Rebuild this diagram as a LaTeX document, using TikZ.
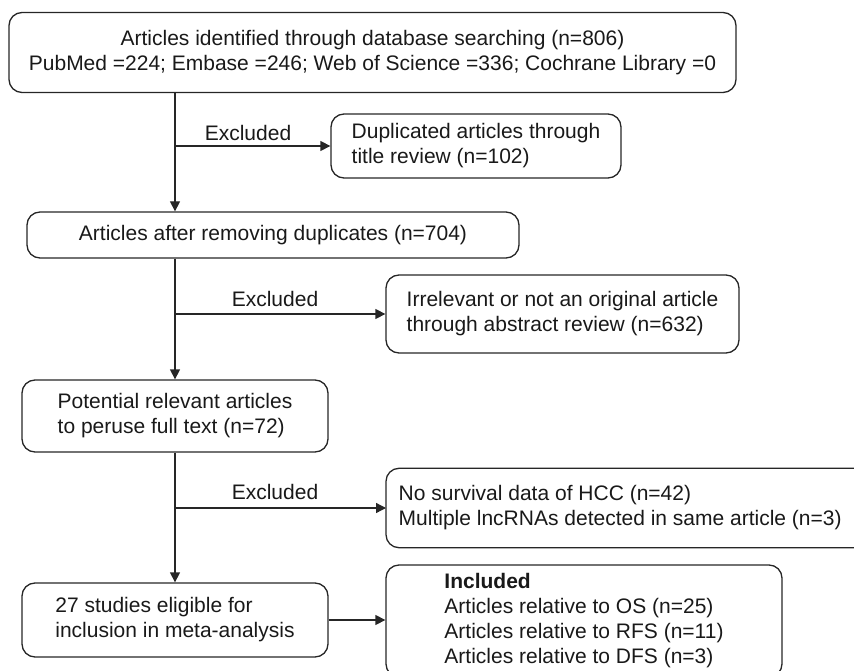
\documentclass[tikz,border=0pt]{standalone}
\usepackage{fontspec}
\setmainfont{Liberation Sans}
\usetikzlibrary{arrows.meta}
\begin{document}
\begin{tikzpicture}[x=1pt,y=-1pt,
  font=\fontsize{21}{25}\selectfont,
  box/.style={draw=black!85, line width=1.3pt, rounded corners=13pt, align=left,
    inner sep=0pt, text=black!90},
  plain/.style={align=left, inner sep=0pt, text=black!90},
  lbl/.style={inner sep=0pt, text=black!90},
  arr/.style={draw=black!85, line width=1.3pt, -{Triangle[length=10pt,width=10pt]}}]
\useasboundingbox (0,0) rectangle (854,671);
\node[box, align=center, minimum width=727pt, minimum height=80pt] (b1) at (372.5,52.5)
  {Articles identified through database searching (n=806)\\PubMed =224; Embase =246; Web of Science =336; Cochrane Library =0};
\node[box, minimum width=290pt, minimum height=64pt] (dup) at (476,146)
  {Duplicated articles through\\title review (n=102)};
\node[box, minimum width=492pt, minimum height=46pt] (b2) at (273,235)
  {Articles after removing duplicates (n=704)};
\node[box, minimum width=353pt, minimum height=78pt] (irr) at (562.5,314)
  {Irrelevant or not an original article\\through abstract review (n=632)};
\node[box, minimum width=306pt, minimum height=72pt] (b3) at (175,416)
  {Potential relevant articles\\to peruse full text (n=72)};
\node[plain, minimum width=468pt, minimum height=79pt, anchor=west] (nosurv) at (386,508)
  {No survival data of HCC (n=42)\\Multiple lncRNAs detected in same article (n=3)};
\draw[draw=black!85, line width=1.3pt, rounded corners=13pt]
  (nosurv.north east) -- (nosurv.north west) -- (nosurv.south west) -- (nosurv.south east);
\node[box, minimum width=306pt, minimum height=74pt] (b4) at (175,620)
  {27 studies eligible for\\inclusion in meta-analysis};
\node[box, minimum width=396pt, minimum height=112pt] (incl) at (584,621)
  {\textbf{Included}\\Articles relative to OS (n=25)\\Articles relative to RFS (n=11)\\Articles relative to DFS (n=3)};
\node[lbl] (ex1) at (248,133) {Excluded};
\node[lbl] (ex2) at (275,299) {Excluded};
\node[lbl] (ex3) at (275,492) {Excluded};
\draw[arr] (b3.north |- b1.south) -- (b3.north |- b2.north);
\draw[arr] (b3.north |- dup.west) -- (dup.west);
\draw[arr] (b3.north |- b2.south) -- (b3.north);
\draw[arr] (b3.north |- irr.west) -- (irr.west);
\draw[arr] (b3.south) -- (b4.north);
\draw[arr] (b3.north |- nosurv.west) -- (nosurv.west);
\draw[arr] (b4.east) -- (b4.east -| incl.west);
\end{tikzpicture}
\end{document}
